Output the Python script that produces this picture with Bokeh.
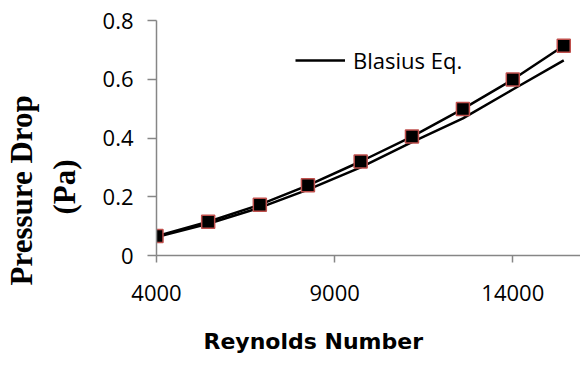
from bokeh.plotting import figure
from bokeh.models import Range1d, FixedTicker, Title
from bokeh.embed import file_html
from bokeh.resources import INLINE

reynolds = [4000, 5450, 6900, 8250, 9730, 11170, 12600, 14000, 15430]
measured_dp = [0.066, 0.115, 0.173, 0.239, 0.320, 0.405, 0.499, 0.599, 0.714]
blasius_dp = [0.063, 0.108, 0.163, 0.224, 0.300, 0.386, 0.467, 0.565, 0.664]

x_ticks = [4000, 9000, 14000]
x_tick_labels = ["4000", "9000", "14000"]
y_ticks = [0, 0.2, 0.4, 0.6, 0.8]
y_tick_labels = ["0", "0.2", "0.4", "0.6", "0.8"]

p = figure(width=580, height=379, output_backend="svg", toolbar_location=None,
           x_range=Range1d(4000, 15900), y_range=Range1d(0, 0.8),
           min_border_left=156, min_border_right=0, min_border_top=20,
           min_border_bottom=124)
p.outline_line_color = None
p.xgrid.visible = False
p.ygrid.visible = False
p.background_fill_color = "white"

p.line(reynolds, blasius_dp, line_color="black", line_width=2.5, legend_label="Blasius Eq.")
p.line(reynolds, measured_dp, line_color="black", line_width=2.5)
p.scatter(reynolds, measured_dp, marker="square", size=13, fill_color="black",
          line_color="#C0504D", line_width=1.5)

for ax in (p.xaxis[0], p.yaxis[0]):
    ax.axis_line_color = "#868686"
    ax.axis_line_width = 1.5
    ax.major_tick_line_color = "#868686"
    ax.major_tick_line_width = 1.5
    ax.minor_tick_line_color = None
    ax.major_tick_in = 0
    ax.major_label_text_font = "Open Sans"
    ax.major_label_text_font_size = "22px"
    ax.major_label_text_color = "black"

p.xaxis[0].ticker = FixedTicker(ticks=x_ticks)
p.xaxis[0].major_label_overrides = dict(zip(x_ticks, x_tick_labels))
p.xaxis[0].major_tick_out = 7
p.xaxis[0].major_label_standoff = 22

p.yaxis[0].ticker = FixedTicker(ticks=y_ticks)
p.yaxis[0].major_label_overrides = dict(zip(y_ticks, y_tick_labels))
p.yaxis[0].major_tick_out = 9
p.yaxis[0].major_label_standoff = 14

p.add_layout(Title(text="(Pa)", align="left", offset=41,
                   text_font="Liberation Serif", text_font_style="bold",
                   text_font_size="31px", text_color="black", standoff=35), "left")
p.add_layout(Title(text="Pressure Drop", align="left", offset=-30,
                   text_font="Liberation Serif", text_font_style="bold",
                   text_font_size="31px", text_color="black", standoff=-23), "left")
p.add_layout(Title(text="Reynolds Number", align="left", offset=47,
                   text_font="DejaVu Sans", text_font_style="bold",
                   text_font_size="22px", text_color="black", standoff=47), "below")

lg = p.legend[0]
lg.location = (139, 180)
lg.background_fill_alpha = 0
lg.border_line_color = None
lg.padding = 0
lg.margin = 0
lg.glyph_width = 50
lg.glyph_height = 20
lg.label_height = 20
lg.label_standoff = 8
lg.label_text_font = "Open Sans"
lg.label_text_font_size = "22px"
lg.label_text_color = "black"

open("out.html", "w").write(file_html(p, INLINE))
